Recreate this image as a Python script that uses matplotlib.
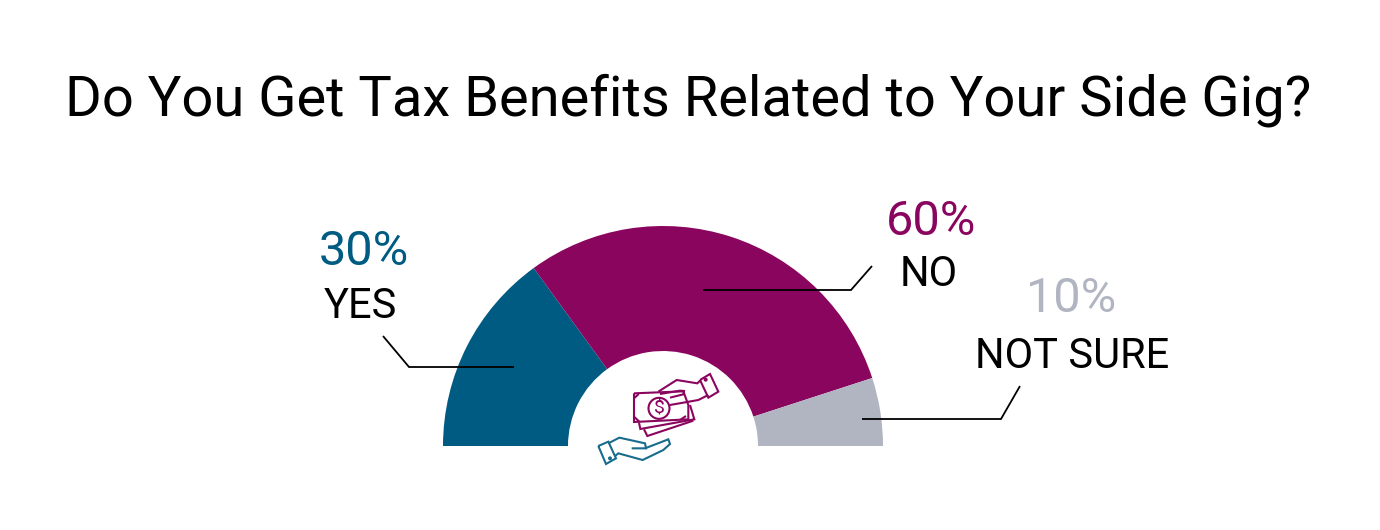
import matplotlib
matplotlib.use('Agg')
import matplotlib.pyplot as plt
from matplotlib.patches import Circle

plt.rcParams['font.family'] = ['Roboto', 'DejaVu Sans']

title = 'Do You Get Tax Benefits Related to Your Side Gig?'
labels = ['YES', 'NO', 'NOT SURE']
values = [30, 60, 10]
hidden = [100]  # lower half of the ring, not drawn
colors = ['#005B82', '#8A055E', '#B1B5C2']

W, H = 1380, 530
fig = plt.figure(figsize=(W / 100, H / 100), dpi=100)
ax = fig.add_axes([0, 0, 1, 1])

# ring, centre and radius in pixels
wedges, _ = ax.pie(values + hidden, colors=colors + ['white'], startangle=180, counterclock=False,
                   center=(663, H - 446), radius=220, wedgeprops={'width': 125, 'linewidth': 0})
wedges[-1].set_visible(False)

ax.set_xlim(0, W)
ax.set_ylim(0, H)
ax.set_aspect('equal')
ax.axis('off')


def px(x, y):
    return x, H - y


def line(points, color='black', lw=1.1):
    xs = [p[0] for p in points]
    ys = [H - p[1] for p in points]
    ax.plot(xs, ys, color=color, lw=lw, solid_joinstyle='miter', solid_capstyle='butt')


# leader lines
line([(383, 336), (409, 367), (514, 367)], lw=1.3)
line([(703, 290), (851, 290), (872, 266)], lw=1.3)
line([(862, 419), (1001, 419), (1020, 386)], lw=1.3)

ax.text(*px(688.5, 100), title, fontsize=40.4, ha='center', va='center', color='black')

ax.text(*px(364, 252), f'{values[0]}%', fontsize=35, ha='center', va='center', color=colors[0])
ax.text(*px(360, 306), labels[0], fontsize=30, ha='center', va='center', color='black')
ax.text(*px(931, 222), f'{values[1]}%', fontsize=35, ha='center', va='center', color=colors[1])
ax.text(*px(929, 275), labels[1], fontsize=30, ha='center', va='center', color='black')
ax.text(*px(1071, 299), f'{values[2]}%', fontsize=35, ha='center', va='center', color=colors[2])
ax.text(*px(1072, 356), labels[2], fontsize=30, ha='center', va='center', color='black')


def icon(points, color, close=False):
    pts = [(560 + x / 3, 350 + y / 3) for x, y in points]
    if close:
        pts.append(pts[0])
    line(pts, color=color, lw=1.5)


purple = colors[1]
teal = '#1A6C8C'
icon([(222, 130), (370, 124), (385, 165), (385, 208), (222, 216)], purple, close=True)
icon([(222, 145), (236, 132)], purple)
icon([(222, 200), (238, 215)], purple)
icon([(360, 210), (378, 198)], purple)
icon([(237, 218), (241, 237), (403, 208), (390, 165)], purple)
icon([(252, 238), (262, 258), (400, 212)], purple)
icon([(420, 90), (450, 72), (475, 125), (445, 143)], purple, close=True)
icon([(295, 125), (350, 90), (412, 100), (420, 92)], purple)
icon([(445, 135), (415, 150), (330, 165)], purple)
icon([(330, 143), (370, 133), (372, 123), (360, 122), (300, 132)], purple)
ax.add_patch(Circle(px(560 + 297 / 3, 350 + 175 / 3), 10.5, fill=False, ec=purple, lw=1.5))
ax.add_patch(Circle(px(560 + 437 / 3, 350 + 89 / 3), 2, color=purple, lw=0))
ax.text(*px(560 + 297 / 3, 350 + 175 / 3), '$', fontsize=14, ha='center', va='center', color=purple)

icon([(115, 288), (145, 275), (168, 325), (138, 342)], teal, close=True)
icon([(145, 280), (178, 263), (255, 280), (258, 295), (215, 295)], teal)
icon([(255, 295), (325, 268), (330, 282), (310, 300), (248, 330), (175, 310), (165, 318)], teal)
ax.add_patch(Circle(px(560 + 150 / 3, 350 + 325 / 3), 2, color=teal, lw=0))

fig.savefig('out.png', dpi=100, facecolor='white')
